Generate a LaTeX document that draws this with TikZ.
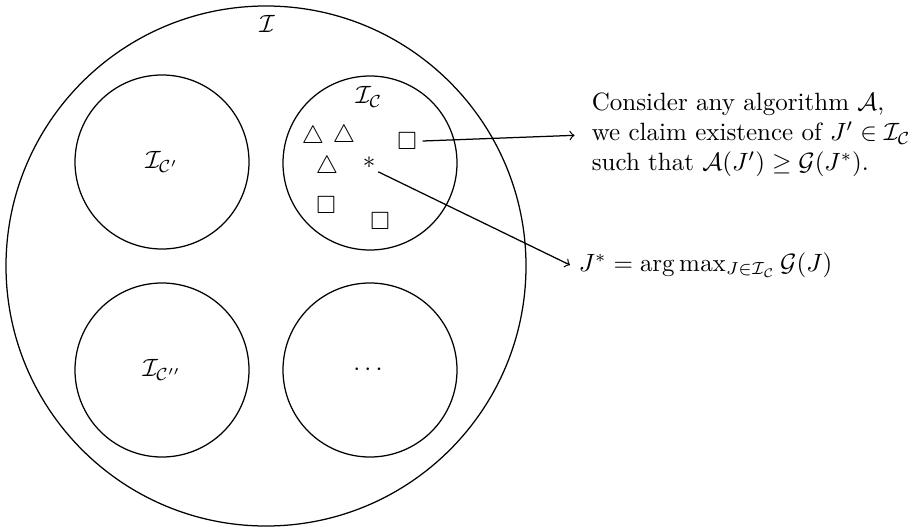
\documentclass[tikz,border=0pt]{standalone}
\usepackage{amsmath,amssymb}
\usepackage{tikz}
\usetikzlibrary{positioning,calc}

\begin{document}
\begin{tikzpicture}[
    x=0.4pt, y=-0.4pt,
    >=to,
    sub/.style={circle, draw, line width=0.5pt, minimum size=69.6pt, inner sep=0pt},
    inst/.style={inner sep=1pt},
    arr/.style={->, line width=0.5pt},
  ]
\useasboundingbox (0,0) rectangle (914,527);

% Whole instance space
\node[circle, draw, line width=0.5pt, minimum size=208pt, inner sep=0pt] (univ) at (266,266) {};
\node (univlab) at (267,24) {$\mathcal{I}$};

% Sub-classes
\node[sub] (cls) at (370,163) {};
\node[sub] (clsA) at (162,162) {$\mathcal{I}_{\mathcal{C}'}$};
\node[sub] (clsB) at (162,370) {$\mathcal{I}_{\mathcal{C}''}$};
\node[sub] (clsC) at (370,370) {$\cdots$};
\node (clslab) at (369,97) {$\mathcal{I}_{\mathcal{C}}$};

% Instances inside I_C
\node[inst] (t1) at (313,137) {$\triangle$};
\node[inst] (t2) at (344,136) {$\triangle$};
\node[inst] (t3) at (327,167) {$\triangle$};
\node[inst] (s1) at (407,141) {$\square$};
\node[inst] (s2) at (326,205) {$\square$};
\node[inst] (s3) at (380,221) {$\square$};
\node[inst] (opt) at (369,163) {$*$};

% Annotations
\node[align=left, anchor=west] (claim) at (583,135)
  {Consider any algorithm $\mathcal{A}$,\\
   we claim existence of $J' \in \mathcal{I}_{\mathcal{C}}$\\
   such that $\mathcal{A}(J') \geq \mathcal{G}(J^*)$.};
\node[anchor=west] (argmax) at (570,265)
  {$J^* = \arg\max_{J \in \mathcal{I}_{\mathcal{C}}} \mathcal{G}(J)$};

% Arrows
\draw[arr, shorten >=3.4pt] (s1.east) ++(3,0) coordinate (s1o) -- (claim.west);
\draw[arr] (opt.south east) -- (argmax.west);
\end{tikzpicture}
\end{document}
